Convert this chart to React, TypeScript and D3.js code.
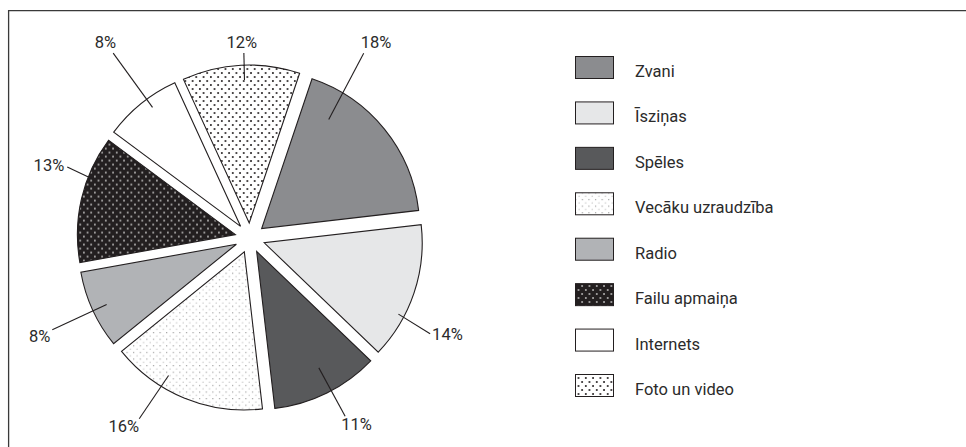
import React from "react";
import * as d3 from "d3";

const categories = ["Zvani", "Īsziņas", "Spēles", "Vecāku uzraudzība", "Radio", "Failu apmaiņa", "Internets", "Foto un video"];
const values = [18, 14, 11, 16, 8, 13, 8, 12];
const percentLabels = ["18%", "14%", "11%", "16%", "8%", "13%", "8%", "12%"];
const fills = ["#8b8c8f", "#e6e7e8", "#58595b", "url(#patVec)", "#b1b3b6", "url(#patFail)", "#ffffff", "url(#patFoto)"];

// label layout: angle (deg, from center, clockwise from 12 o'clock), inner radius, outer radius, text anchor, dx, dy
const labelAngle = [31.6, 118, 151.9, 211.5, 245.1, 291.2, 323.5, 358.1];
const labelRIn = [128, 152, 132, 145, 143, 152, 148, 143];
const labelROut = [217, 204, 202, 212, 218, 196, 230, 185];
const labelAnchor = ["start", "start", "start", "end", "end", "end", "end", "middle"];
const labelDx = [-3, 2, -4, 0, -2, -3, 3, -2];
const labelDy = [-5, 6, 14, 13, 12, 4, -5, -5];

const W = 966, H = 447;
const cx = 250, cy = 238, R = 158, explode = 15;
const startDeg = 18.6;

export default function App() {
  const pie = d3.pie<number>().sort(null).value((d) => d)
    .startAngle((startDeg * Math.PI) / 180)
    .endAngle((startDeg * Math.PI) / 180 + 2 * Math.PI);
  const arcs = pie(values);
  const arcGen = d3.arc<d3.PieArcDatum<number>>().innerRadius(0).outerRadius(R);
  const dir = (a: number) => [Math.sin(a), -Math.cos(a)];
  const font = "Roboto, 'Open Sans', sans-serif";
  const ink = "#231f20";
  const textInk = "#2b2b2b";

  const legendY = d3.scalePoint<number>().domain(d3.range(categories.length)).range([56, 374]);

  return (
    <svg width={W} height={H} style={{ position: "absolute", left: 0, top: 0, background: "#fff" }}>
      <defs>
        <pattern id="patFoto" patternUnits="userSpaceOnUse" width="7.3" height="8">
          <rect width="7.3" height="8" fill="#fff" />
          <circle cx="1.8" cy="2" r="1" fill={ink} />
          <circle cx="5.45" cy="6" r="1" fill={ink} />
        </pattern>
        <pattern id="patFail" patternUnits="userSpaceOnUse" width="7.3" height="8">
          <rect width="7.3" height="8" fill={ink} />
          <rect x="1.1" y="1.3" width="1.4" height="1.4" fill="#fff" />
          <rect x="4.75" y="5.3" width="1.4" height="1.4" fill="#fff" />
        </pattern>
        <pattern id="patVec" patternUnits="userSpaceOnUse" width="6.6" height="6.6">
          <rect width="6.6" height="6.6" fill="#fff" />
          <circle cx="1.6" cy="1.6" r="0.6" fill="#8a8a8a" />
          <circle cx="4.9" cy="4.9" r="0.75" fill="#c8c8c8" />
        </pattern>
      </defs>
      <path d={`M8.6,${H} V10.6 H${W}`} fill="none" stroke="#3a3a3a" strokeWidth={1.3} />
      <g>
        {arcs.map((a, i) => {
          const mid = (a.startAngle + a.endAngle) / 2;
          const [ux, uy] = dir(mid);
          const tx = cx + explode * ux, ty = cy + explode * uy;
          return (
            <path key={i} d={arcGen(a) || ""} transform={`translate(${tx},${ty})`}
              fill={fills[i]} stroke={ink} strokeWidth={1.1} strokeLinejoin="miter" />
          );
        })}
      </g>
      <g>
        {arcs.map((a, i) => {
          const mid = (a.startAngle + a.endAngle) / 2;
          const [ux, uy] = dir(mid);
          const tx = cx + explode * ux, ty = cy + explode * uy;
          const la = (labelAngle[i] * Math.PI) / 180;
          const [lx, ly] = dir(la);
          const x1 = tx + labelRIn[i] * lx, y1 = ty + labelRIn[i] * ly;
          const x2 = cx + labelROut[i] * lx, y2 = cy + labelROut[i] * ly;
          return (
            <g key={i}>
              <line x1={x1} y1={y1} x2={x2} y2={y2} stroke={ink} strokeWidth={1.1} />
              <text x={x2 + labelDx[i]} y={y2 + labelDy[i]} textAnchor={labelAnchor[i] as any}
                fontFamily={font} fontSize={16.5} fill={textInk}>{percentLabels[i]}</text>
            </g>
          );
        })}
      </g>
      <g>
        {categories.map((c, i) => {
          const y = legendY(i) as number;
          return (
            <g key={c}>
              <rect x={575.5} y={y + 0.5} width={38} height={22} fill={fills[i]} stroke={ink} strokeWidth={1} />
              <text x={635} y={y + 21} fontFamily={font} fontSize={16.5} fill={textInk}>{c}</text>
            </g>
          );
        })}
      </g>
    </svg>
  );
}
